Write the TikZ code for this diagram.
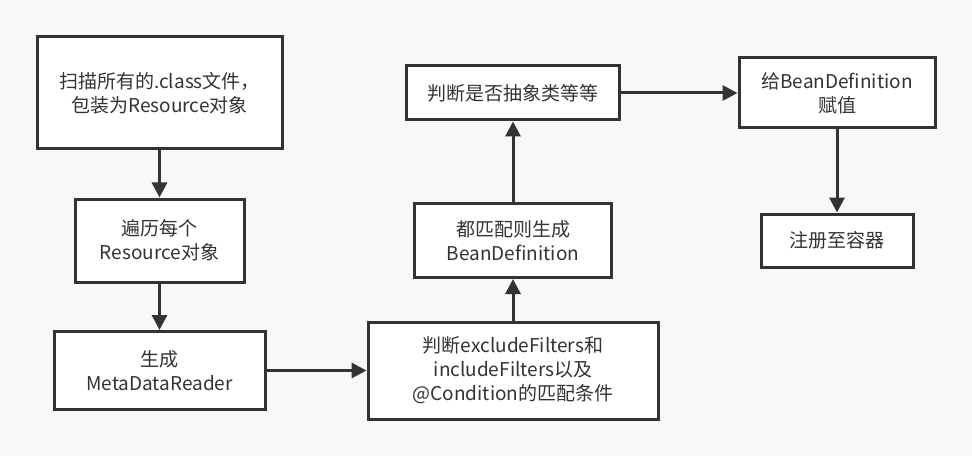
\documentclass[tikz,border=0pt]{standalone}
\usepackage{fontspec}
\setmainfont{Noto Sans CJK SC}
\usepackage{xcolor}
\usepackage{tikz}
\usetikzlibrary{arrows.meta}
\definecolor{bggray}{HTML}{F8F8F8}
\definecolor{inkgray}{HTML}{333333}

\begin{document}
\begin{tikzpicture}[x=1pt,y=1pt,
                stepbox/.style={draw=inkgray,line width=3pt,fill=white,align=center,
                    text=inkgray,inner sep=0pt,font=\fontsize{19}{24}\selectfont},
                flow/.style={draw=inkgray,line width=3pt,-{Triangle[length=15pt,width=15pt]}}]
                \fill[bggray] (0,0) rectangle (972,456);
                \useasboundingbox (0,0) rectangle (972,456);

                \node[stepbox,minimum width=245,minimum height=112] (scan) at (159.5,363) {扫描所有的.class文件，\\包装为Resource对象};
                \node[stepbox,minimum width=169,minimum height=83] (loop) at (159.5,215.5) {遍历每个\\Resource对象};
                \node[stepbox,minimum width=211,minimum height=78] (reader) at (159.5,85.5) {生成\\MetaDataReader};
                \node[stepbox,minimum width=290,minimum height=97] (filter) at (513,85.5) {判断excludeFilters和\\includeFilters以及\\@Condition的匹配条件};
                \node[stepbox,minimum width=197,minimum height=74] (gen) at (513,215.5) {都匹配则生成\\BeanDefinition};
                \node[stepbox,minimum width=213,minimum height=54] (abstract) at (513,363) {判断是否抽象类等等};
                \node[stepbox,minimum width=196,minimum height=70] (assign) at (837,363) {给BeanDefinition\\赋值};
                \node[stepbox,minimum width=152,minimum height=53] (register) at (837,215.5) {注册至容器};

                \draw[flow] (scan) -- (loop);
                \draw[flow] (loop) -- (reader);
                \draw[flow] (reader) -- (filter);
                \draw[flow] (filter) -- (gen);
                \draw[flow] (gen) -- (abstract);
                \draw[flow] (abstract) -- (assign);
                \draw[flow] (assign) -- (register);
\end{tikzpicture}
\end{document}
